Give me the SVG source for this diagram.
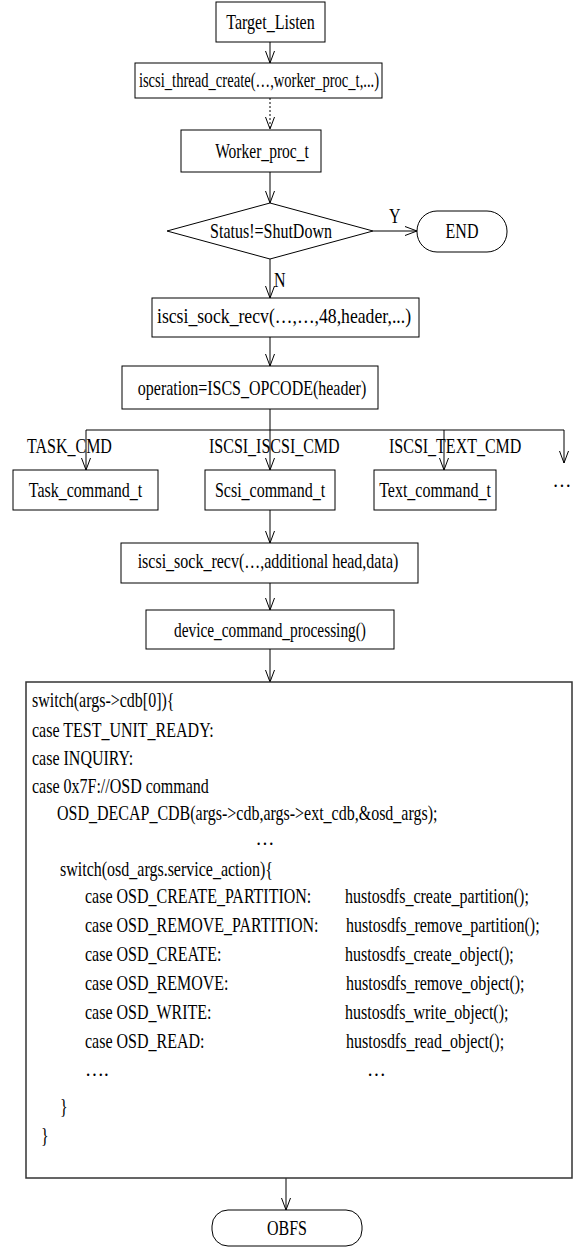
<svg xmlns="http://www.w3.org/2000/svg" width="573" height="1247" viewBox="0 0 573 1247">
<style>
text{font-family:"Liberation Serif","Times New Roman",serif;font-size:21px;fill:#000}
.c{text-anchor:middle}
.b{fill:#fff;stroke:#000;stroke-width:1}
.ln{fill:none;stroke:#000;stroke-width:1}
.ar{marker-end:url(#ah)}
.code{fill:#fff;stroke:#333;stroke-width:1.5}
</style>
<defs>
<marker id="ah" markerUnits="userSpaceOnUse" markerWidth="14" markerHeight="12" refX="12" refY="4.5" orient="auto" overflow="visible">
<path d="M0,0 L12,4.5 L0,9" fill="none" stroke="#000" stroke-width="1"/>
</marker>
</defs>
<rect width="573" height="1247" fill="#fff"/>

<g id="connectors">
<line class="ln ar" x1="270" y1="42" x2="270" y2="63"/>
<line class="ln ar" x1="270" y1="98" x2="270" y2="129" stroke-dasharray="2,2"/>
<line class="ln ar" x1="270" y1="172" x2="270" y2="203"/>
<line class="ln ar" x1="373" y1="231" x2="417" y2="231"/>
<text transform="translate(389,223) scale(0.762,1)">Y</text>
<line class="ln ar" x1="270" y1="259" x2="270" y2="298"/>
<text transform="translate(274,287) scale(0.762,1)">N</text>
<line class="ln ar" x1="270" y1="337" x2="270" y2="366"/>
<line class="ln" x1="270" y1="409" x2="270" y2="430"/>
<line class="ln" x1="86" y1="430" x2="564" y2="430"/>
<line class="ln ar" x1="86" y1="430" x2="86" y2="470"/>
<line class="ln ar" x1="270" y1="430" x2="270" y2="470"/>
<line class="ln ar" x1="444" y1="430" x2="444" y2="470"/>
<line class="ln ar" x1="564" y1="430" x2="564" y2="463"/>
<text transform="translate(27,453) scale(0.762,1)">TASK_CMD</text>
<text transform="translate(209,453) scale(0.762,1)">ISCSI_ISCSI_CMD</text>
<text transform="translate(389,453) scale(0.762,1)">ISCSI_TEXT_CMD</text>
<line class="ln ar" x1="270" y1="510" x2="270" y2="543"/>
<line class="ln ar" x1="270" y1="583" x2="270" y2="610"/>
<line class="ln ar" x1="270" y1="649" x2="270" y2="682"/>
<line class="ln ar" x1="286" y1="1178" x2="286" y2="1210"/>
</g>

<g id="target_listen">
<rect class="b" x="216" y="2" width="109" height="40"/>
<text class="c" transform="translate(270.5,29) scale(0.764,1)">Target_Listen</text>
</g>
<g id="thread_create">
<rect class="b" x="135" y="63" width="247" height="35"/>
<text class="c" transform="translate(259,87) scale(0.695,1)">iscsi_thread_create(…,worker_proc_t,...)</text>
</g>
<g id="worker_proc">
<rect class="b" x="181" y="130" width="140" height="42"/>
<text class="c" transform="translate(262,158) scale(0.74,1)">Worker_proc_t</text>
</g>
<g id="status">
<polygon class="b" points="167,231 270,203 373,231 270,259"/>
<text class="c" transform="translate(271,238) scale(0.762,1)">Status!=ShutDown</text>
</g>
<g id="end">
<rect class="b" x="417" y="211" width="90" height="41" rx="20" ry="20"/>
<text class="c" transform="translate(462,238) scale(0.762,1)">END</text>
</g>
<g id="sock_recv1">
<rect class="b" x="152" y="298" width="267" height="39"/>
<text class="c" transform="translate(284,323) scale(0.842,1)">iscsi_sock_recv(…,…,48,header,...)</text>
</g>
<g id="operation">
<rect class="b" x="122" y="366" width="256" height="43"/>
<text class="c" transform="translate(252,395) scale(0.762,1)">operation=ISCS_OPCODE(header)</text>
</g>
<g id="task_command">
<rect class="b" x="13" y="470" width="145" height="40"/>
<text class="c" transform="translate(85.5,497) scale(0.762,1)">Task_command_t</text>
</g>
<g id="scsi_command">
<rect class="b" x="205" y="470" width="130" height="40"/>
<text class="c" transform="translate(270,497) scale(0.762,1)">Scsi_command_t</text>
</g>
<g id="text_command">
<rect class="b" x="374" y="470" width="122" height="40"/>
<text class="c" transform="translate(435,497) scale(0.762,1)">Text_command_t</text>
</g>
<g id="more">
<text class="c" transform="translate(562,487) scale(0.9,1)">…</text>
</g>
<g id="sock_recv2">
<rect class="b" x="121" y="543" width="297" height="40"/>
<text class="c" transform="translate(268,568) scale(0.762,1)">iscsi_sock_recv(…,additional head,data)</text>
</g>
<g id="device_processing">
<rect class="b" x="146" y="610" width="248" height="39"/>
<text class="c" transform="translate(270,637) scale(0.732,1)">device_command_processing()</text>
</g>
<g id="code">
<rect class="code" x="26" y="682" width="546" height="496"/>
<text transform="translate(32,707) scale(0.762,1)">switch(args-&gt;cdb[0]){</text>
<text transform="translate(32,737) scale(0.762,1)">case TEST_UNIT_READY:</text>
<text transform="translate(32,765) scale(0.762,1)">case INQUIRY:</text>
<text transform="translate(32,793) scale(0.762,1)">case 0x7F://OSD command</text>
<text transform="translate(57,820) scale(0.762,1)">OSD_DECAP_CDB(args-&gt;cdb,args-&gt;ext_cdb,&amp;osd_args);</text>
<text class="c" transform="translate(265,845) scale(0.9,1)">…</text>
<text transform="translate(60,876) scale(0.762,1)">switch(osd_args.service_action){</text>
<text transform="translate(85,903) scale(0.762,1)">case OSD_CREATE_PARTITION:</text>
<text transform="translate(85,932) scale(0.762,1)">case OSD_REMOVE_PARTITION:</text>
<text transform="translate(85,961) scale(0.762,1)">case OSD_CREATE:</text>
<text transform="translate(85,990) scale(0.762,1)">case OSD_REMOVE:</text>
<text transform="translate(85,1019) scale(0.762,1)">case OSD_WRITE:</text>
<text transform="translate(85,1048) scale(0.762,1)">case OSD_READ:</text>
<text transform="translate(85,1076) scale(0.9,1)">….</text>
<text transform="translate(345,903) scale(0.762,1)">hustosdfs_create_partition();</text>
<text transform="translate(346,932) scale(0.762,1)">hustosdfs_remove_partition();</text>
<text transform="translate(345,961) scale(0.762,1)">hustosdfs_create_object();</text>
<text transform="translate(346,990) scale(0.762,1)">hustosdfs_remove_object();</text>
<text transform="translate(345,1019) scale(0.762,1)">hustosdfs_write_object();</text>
<text transform="translate(346,1048) scale(0.762,1)">hustosdfs_read_object();</text>
<text transform="translate(367,1076) scale(0.9,1)">…</text>
<text transform="translate(60,1113) scale(0.762,1)">}</text>
<text transform="translate(41,1142) scale(0.762,1)">}</text>
</g>
<g id="obfs">
<rect class="b" x="212" y="1210" width="150" height="36" rx="16" ry="16"/>
<text class="c" transform="translate(287,1235) scale(0.762,1)">OBFS</text>
</g>
</svg>
